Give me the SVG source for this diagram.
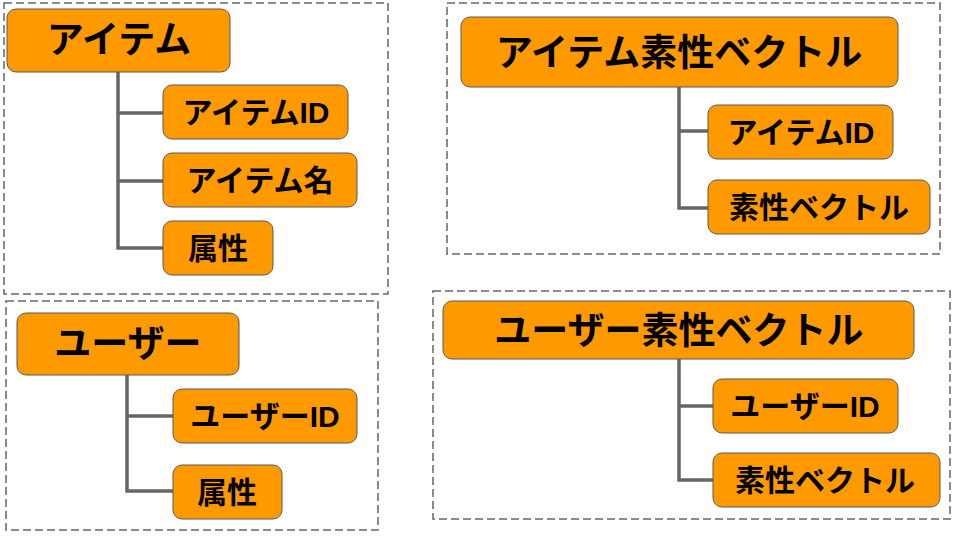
<svg xmlns="http://www.w3.org/2000/svg" width="960" height="540" viewBox="0 0 960 540">
<style>
.frame{fill:none;stroke:#666666;stroke-width:1.5;stroke-dasharray:8 4}
.node rect{fill:#ff9900;stroke:#595959;stroke-width:1}
.node text{font-family:"Liberation Sans","Noto Sans CJK JP",sans-serif;font-weight:bold;fill:#000000;text-anchor:middle}
.big text{font-size:37px}
.small text{font-size:30px}
.conn path{fill:none;stroke:#666666;stroke-width:3.5}
</style>
<rect width="960" height="540" fill="#ffffff"/>
<g id="frames">
<rect class="frame" x="4" y="3" width="384" height="291"/>
<rect class="frame" x="447" y="3" width="493" height="251"/>
<rect class="frame" x="6" y="301" width="372" height="229"/>
<rect class="frame" x="433" y="291" width="517" height="228"/>
</g>
<g id="connectors" class="conn">
<path d="M118 72 V248 H163 M118 113 H163 M118 181 H163"/>
<path d="M679 87 V208 H708 M679 131 H708"/>
<path d="M127 375 V491 H173 M127 416 H173"/>
<path d="M679 359 V480 H713 M679 406 H713"/>
</g>
<g id="item" class="node big">
<rect x="7" y="9" width="223" height="63" rx="9"/>
<text x="119" y="53">アイテム</text>
</g>
<g id="item-id" class="node small">
<rect x="163" y="85" width="185" height="54" rx="9"/>
<text x="256" y="123">アイテムID</text>
</g>
<g id="item-name" class="node small">
<rect x="163" y="153" width="194" height="54" rx="9"/>
<text x="260" y="191">アイテム名</text>
</g>
<g id="item-attr" class="node small">
<rect x="163" y="221" width="110" height="54" rx="9"/>
<text x="218" y="259">属性</text>
</g>
<g id="item-vec" class="node big">
<rect x="461" y="17" width="437" height="70" rx="9"/>
<text x="679" y="66">アイテム素性ベクトル</text>
</g>
<g id="item-vec-id" class="node small">
<rect x="708" y="105" width="185" height="54" rx="9"/>
<text x="801" y="143">アイテムID</text>
</g>
<g id="item-vec-vec" class="node small">
<rect x="708" y="180" width="222" height="54" rx="9"/>
<text x="819" y="218">素性ベクトル</text>
</g>
<g id="user" class="node big">
<rect x="17" y="313" width="222" height="62" rx="9"/>
<text x="128" y="357">ユーザー</text>
</g>
<g id="user-id" class="node small">
<rect x="173" y="389" width="184" height="54" rx="9"/>
<text x="265" y="427">ユーザーID</text>
</g>
<g id="user-attr" class="node small">
<rect x="173" y="465" width="109" height="54" rx="9"/>
<text x="227" y="503">属性</text>
</g>
<g id="user-vec" class="node big">
<rect x="443" y="301" width="471" height="58" rx="9"/>
<text x="679" y="344">ユーザー素性ベクトル</text>
</g>
<g id="user-vec-id" class="node small">
<rect x="713" y="379" width="185" height="54" rx="9"/>
<text x="805" y="417">ユーザーID</text>
</g>
<g id="user-vec-vec" class="node small">
<rect x="713" y="453" width="227" height="54" rx="9"/>
<text x="825" y="491">素性ベクトル</text>
</g>
</svg>
